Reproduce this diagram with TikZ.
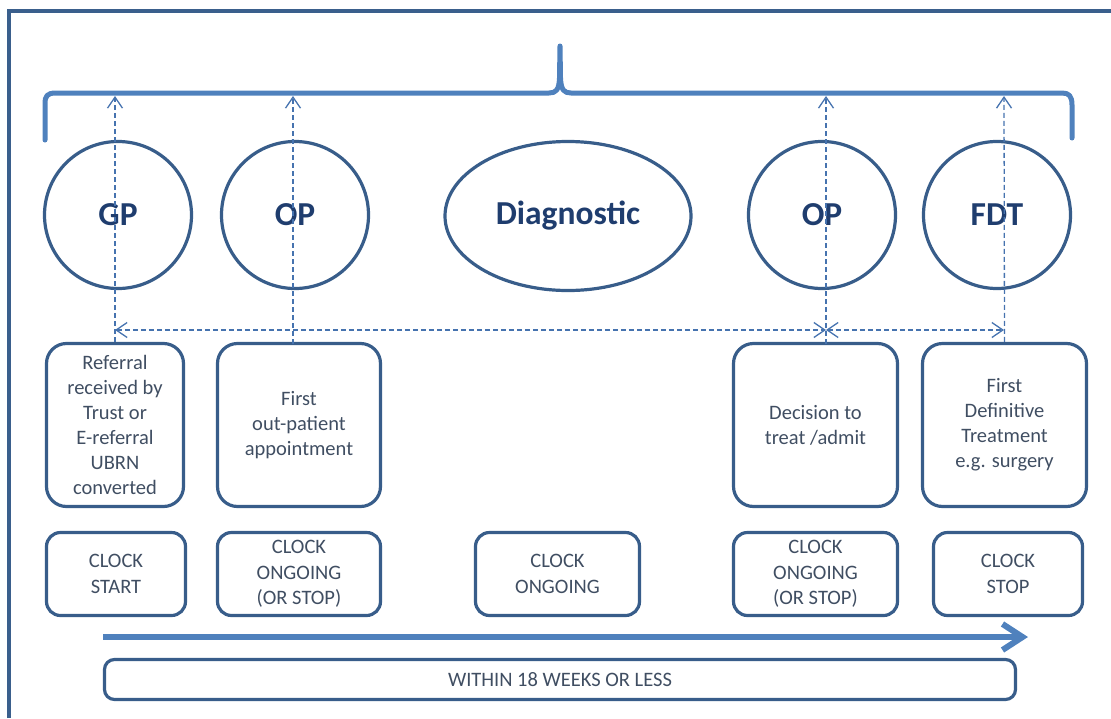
\documentclass[tikz,border=0pt]{standalone}
\usepackage{fontspec}
\setmainfont{Carlito}
\usetikzlibrary{arrows.meta,shapes.geometric}
\definecolor{dk}{RGB}{56,93,138}
\definecolor{lt}{RGB}{79,129,189}
\definecolor{dsh}{RGB}{70,115,175}
\definecolor{frm}{RGB}{58,95,140}
\definecolor{txt}{RGB}{64,78,98}
\definecolor{ttl}{RGB}{31,61,110}
\begin{document}
\begin{tikzpicture}[x=1pt,y=-1pt,
  stage/.style={circle, draw=dk, line width=3.2pt, minimum size=147pt, inner sep=0pt,
    font=\fontsize{33.5}{40}\selectfont\bfseries, text=ttl},
  evbox/.style={draw=dk, line width=3.2pt, rounded corners=20pt, minimum height=163pt,
    inner sep=0pt, align=center, font=\fontsize{20.5}{25}\selectfont, text=txt},
  clkbox/.style={draw=dk, line width=3.2pt, rounded corners=14pt, minimum height=83pt,
    inner sep=0pt, align=center, font=\fontsize{20.5}{25.5}\selectfont, text=txt},
  bracepath/.style={draw=lt, line width=5pt, line join=round, line cap=round},
  dashln/.style={draw=dsh, line width=1.3pt, dash pattern=on 5pt off 3pt},
  barb/.tip={Straight Barb[length=11pt,width=15pt,line width=1.3pt]},
  bigarrow/.style={draw=lt, line width=6pt, -{Straight Barb[length=20pt,width=26pt,line width=6pt]}}
]
\useasboundingbox (0,0) rectangle (1111,718);
% frame
\coordinate (fl) at (9,718);
\coordinate (fc) at (9,11);
\coordinate (fr) at (1111,11);
\draw[frm, line width=3.5pt] (fl) -- (fc) -- (fr);

% brace
\draw[bracepath] (45,140) -- (45,104) .. controls (45,96) and (47,93) .. (56,93)
  -- (549,93) .. controls (556,93) and (559,90) .. (559.5,78) -- (560,46)
  -- (560.5,78) .. controls (561,90) and (564,93) .. (571,93)
  -- (1062,93) .. controls (1069,93) and (1072,96) .. (1072,105) -- (1072,138);

% stages
\node[stage] (gp) at (118,215) {GP};
\node[stage] (op1) at (295,215) {OP};
\node[ellipse, draw=dk, line width=3.2pt, minimum width=246pt, minimum height=149pt,
  inner sep=0pt, font=\fontsize{33.5}{40}\selectfont\bfseries, text=ttl] (dg) at (568,216) {Diagnostic};
\node[stage] (op2) at (822,215) {OP};
\node[stage] (fdt) at (997,215) {FDT};

% event boxes
\node[evbox, minimum width=137pt] (e1) at (115,425) {Referral\\received by\\Trust or\\E-referral\\UBRN\\converted};
\node[evbox, minimum width=163pt] (e2) at (299,425) {First\\out-patient\\appointment};
\node[evbox, minimum width=164pt] (e3) at (815.5,425) {Decision to\\treat /admit};
\node[evbox, minimum width=164pt] (e4) at (1004.5,425) {First\\Definitive\\Treatment\\e.g. surgery};

% clock boxes
\node[clkbox, minimum width=139pt] (c1) at (116,574) {CLOCK\\START};
\node[clkbox, minimum width=163pt] (c2) at (299,574) {CLOCK\\ONGOING\\(OR STOP)};
\node[clkbox, minimum width=164pt] (c3) at (557.5,574) {CLOCK\\ONGOING};
\node[clkbox, minimum width=164pt] (c4) at (815.5,574) {CLOCK\\ONGOING\\(OR STOP)};
\node[clkbox, minimum width=149pt] (c5) at (1008,574) {CLOCK\\STOP};

% timeline
\coordinate (ta) at (103,637);
\coordinate (tb) at (1028,637);
\draw[bigarrow] (ta) -- (tb);
\node[draw=dk, line width=3.2pt, rounded corners=10pt, minimum width=911pt, minimum height=40pt,
  inner sep=0pt, font=\fontsize{20.5}{25}\selectfont, text=txt] (wk) at (560,679.5) {WITHIN 18 WEEKS OR LESS};

% dashed connectors
\coordinate (b1) at (115,96);
\coordinate (u2) at (293,343.5);
\coordinate (b2) at (293,96);
\coordinate (u3) at (826,343.5);
\coordinate (b3) at (826,96);
\coordinate (b4) at (1004,96);
\coordinate (h1) at (115,330);
\coordinate (h3) at (826,330);
\coordinate (h4) at (1004,330);
\draw[dashln, -barb] (e1.north) -- (b1);
\draw[dashln, -barb] (u2) -- (b2);
\draw[dashln, -barb] (u3) -- (b3);
\draw[dashln, -barb] (e4.north) -- (b4);
\draw[dashln, barb-barb] (h1) -- (h3);
\draw[dashln, barb-barb] (h3) -- (h4);
\end{tikzpicture}
\end{document}
